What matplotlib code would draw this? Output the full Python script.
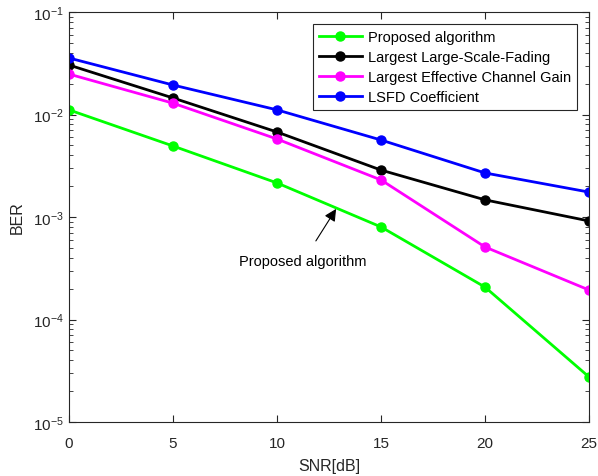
import numpy as np
import matplotlib
matplotlib.use('Agg')
import matplotlib.pyplot as plt

snr = [0, 5, 10, 15, 20, 25]
ber_proposed = [1.11e-2, 4.93e-3, 2.15e-3, 8.0e-4, 2.07e-4, 2.75e-5]
ber_lsf = [3.04e-2, 1.45e-2, 6.75e-3, 2.87e-3, 1.47e-3, 9.15e-4]
ber_ecg = [2.48e-2, 1.29e-2, 5.77e-3, 2.30e-3, 5.1e-4, 1.94e-4]
ber_lsfd = [3.56e-2, 1.94e-2, 1.11e-2, 5.64e-3, 2.69e-3, 1.75e-3]

plt.rcParams['font.family'] = ['Liberation Sans', 'DejaVu Sans']
plt.rcParams['mathtext.fontset'] = 'custom'
plt.rcParams['mathtext.rm'] = 'Liberation Sans'
plt.rcParams['mathtext.it'] = 'Liberation Sans'

fig = plt.figure(figsize=(5.98, 4.77), dpi=100)
ax = fig.add_axes([0.1154, 0.1132, 0.8696, 0.8595])

kw = dict(linewidth=2, marker='o', markersize=6.5)
ax.semilogy(snr, ber_proposed, color=(0, 1, 0), label='Proposed algorithm', **kw)
ax.semilogy(snr, ber_lsf, color='k', label='Largest Large-Scale-Fading', **kw)
ax.semilogy(snr, ber_ecg, color=(1, 0, 1), label='Largest Effective Channel Gain', **kw)
ax.semilogy(snr, ber_lsfd, color=(0, 0, 1), label='LSFD Coefficient', **kw)

ax.set_xlim(0, 25)
ax.set_ylim(1e-5, 1e-1)
ax.set_xticks([0, 5, 10, 15, 20, 25])
ax.tick_params(which='both', direction='in', top=True, right=True,
               labelsize=11, colors='0.15')
ax.tick_params(which='major', length=5)
ax.tick_params(which='minor', length=3)
ax.tick_params(axis='x', pad=10)
for s in ax.spines.values():
    s.set_color('0.15')
    s.set_linewidth(0.8)

ax.set_xlabel('SNR[dB]', fontsize=11.5, color='0.15', labelpad=6)
ax.set_ylabel('BER', fontsize=11.5, color='0.15', labelpad=6)

ax.annotate('Proposed algorithm', xy=(12.84, 1.2e-3), xytext=(11.25, 3.7e-4),
            ha='center', va='center', fontsize=10.5,
            arrowprops=dict(arrowstyle='-|>', color='k', lw=0.8,
                            shrinkA=9, shrinkB=0, mutation_scale=18))

leg = ax.legend(loc='upper right', bbox_to_anchor=(0.977, 0.971), borderaxespad=0,
                fontsize=10.5, handlelength=3.0, handletextpad=0.4, borderpad=0.4,
                labelspacing=0.42, fancybox=False, framealpha=1,
                edgecolor='0.15')
leg.get_frame().set_linewidth(0.8)

fig.savefig('out.png', dpi=100)
